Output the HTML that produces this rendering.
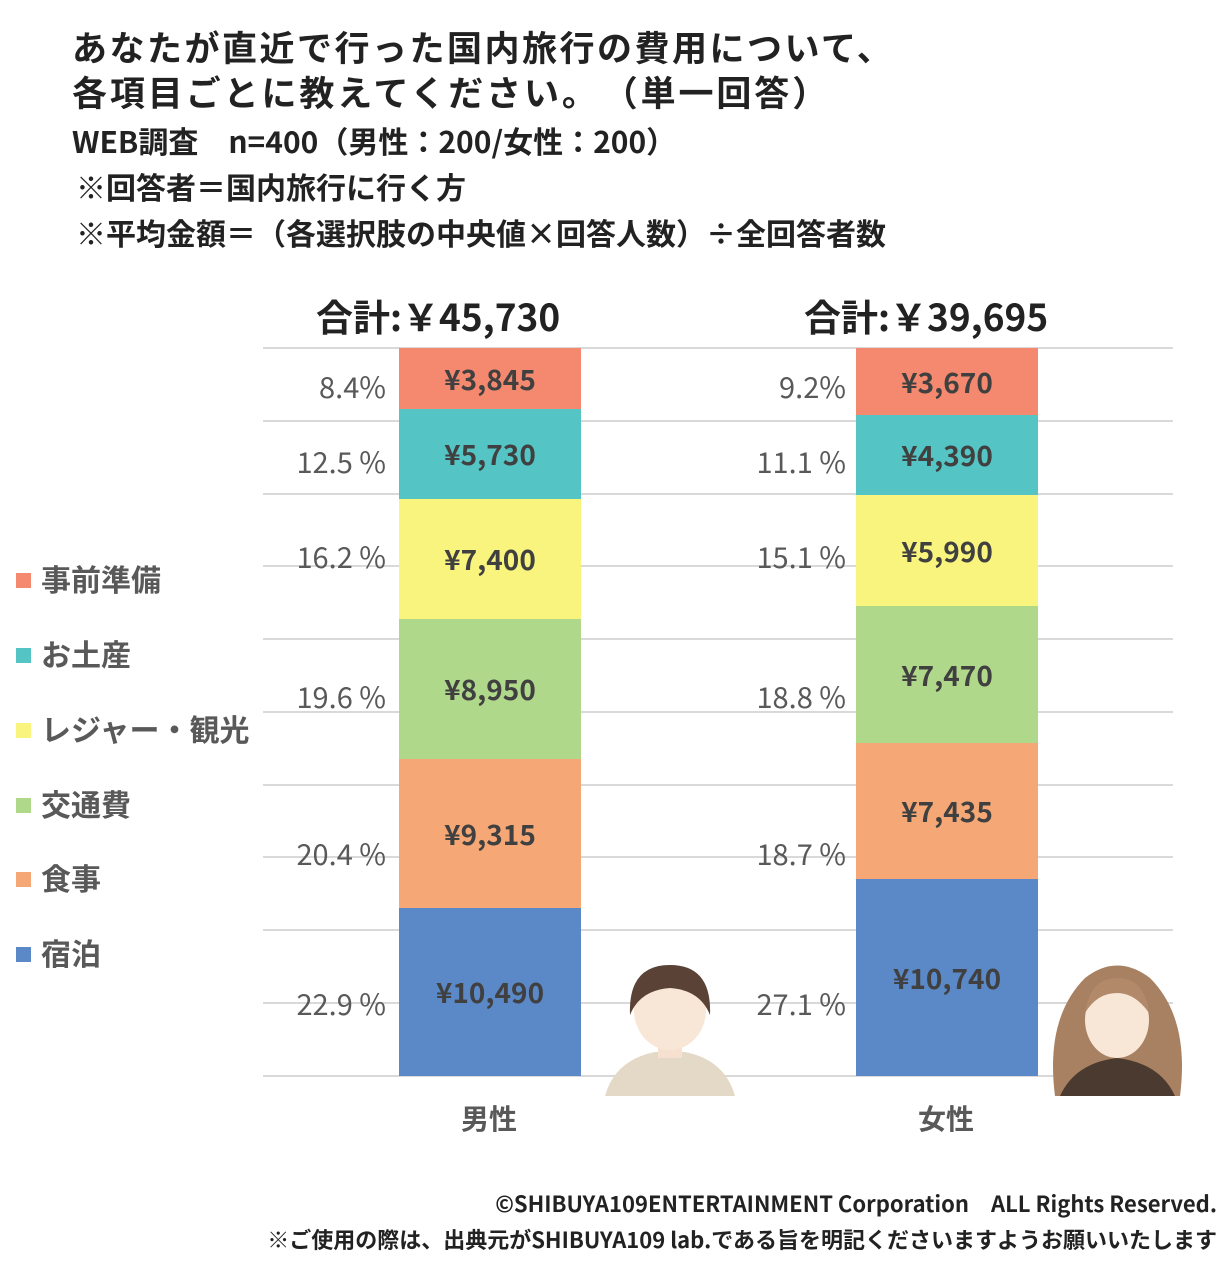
<!DOCTYPE html>
<html><head><meta charset="utf-8"><style>
body{margin:0;background:#fff;}
#c{position:relative;width:1229px;height:1285px;overflow:hidden;font-family:"Noto Sans CJK JP","Liberation Sans",sans-serif;}
.t{position:absolute;white-space:nowrap;font-weight:bold;color:#222;line-height:1.2;}
.g{position:absolute;left:263px;width:910px;height:2px;background:#d9d9d9;}
.s{position:absolute;width:182px;display:flex;align-items:center;justify-content:center;font-size:28px;color:#404040;font-weight:bold;line-height:1;}
.p{position:absolute;width:200px;text-align:right;font-size:29px;color:#595959;line-height:1.2;}
.lg{position:absolute;left:16px;font-size:30px;color:#595959;font-weight:bold;line-height:1.2;}
.lg i{display:inline-block;width:15px;height:15px;margin-right:10px;vertical-align:middle;position:relative;top:-2px;}
</style></head><body><div id="c">
<div class="t" style="left:72px;top:26px;font-size:35px;letter-spacing:2.5px;">あなたが直近で行った国内旅行の費用について、</div>
<div class="t" style="left:72px;top:71px;font-size:35px;letter-spacing:2.9px;">各項目ごとに教えてください。　（単一回答）</div>
<div class="t" style="left:72px;top:122px;font-size:30px;">WEB調査　n=400（男性：200/女性：200）</div>
<div class="t" style="left:76px;top:168px;font-size:30px;">※回答者＝国内旅行に行く方</div>
<div class="t" style="left:76px;top:214px;font-size:30px;">※平均金額＝（各選択肢の中央値×回答人数）÷全回答者数</div>
<div class="t" style="left:316px;top:293px;font-size:37px;">合計:￥45,730</div>
<div class="t" style="left:804px;top:293px;font-size:37px;">合計:￥39,695</div>
<div class="g" style="top:347px"></div><div class="g" style="top:420px"></div><div class="g" style="top:493px"></div><div class="g" style="top:565px"></div><div class="g" style="top:638px"></div><div class="g" style="top:711px"></div><div class="g" style="top:784px"></div><div class="g" style="top:856px"></div><div class="g" style="top:929px"></div><div class="g" style="top:1002px"></div><div class="g" style="top:1075px"></div>
<div class="s" style="left:399px;top:348px;height:61px;background:#F4896F">¥3,845</div>
<div class="s" style="left:399px;top:409px;height:90px;background:#55C4C4">¥5,730</div>
<div class="s" style="left:399px;top:499px;height:120px;background:#F9F47E">¥7,400</div>
<div class="s" style="left:399px;top:619px;height:140px;background:#B0D88B">¥8,950</div>
<div class="s" style="left:399px;top:759px;height:149px;background:#F5A876">¥9,315</div>
<div class="s" style="left:399px;top:908px;height:168px;background:#5B89C8">¥10,490</div>
<div class="s" style="left:856px;top:348px;height:67px;background:#F4896F">¥3,670</div>
<div class="s" style="left:856px;top:415px;height:80px;background:#55C4C4">¥4,390</div>
<div class="s" style="left:856px;top:495px;height:111px;background:#F9F47E">¥5,990</div>
<div class="s" style="left:856px;top:606px;height:137px;background:#B0D88B">¥7,470</div>
<div class="s" style="left:856px;top:743px;height:136px;background:#F5A876">¥7,435</div>
<div class="s" style="left:856px;top:879px;height:197px;background:#5B89C8">¥10,740</div>
<div class="p" style="left:186px;top:369px">8.4%</div>
<div class="p" style="left:186px;top:444px">12.5 %</div>
<div class="p" style="left:186px;top:539px">16.2 %</div>
<div class="p" style="left:186px;top:679px">19.6 %</div>
<div class="p" style="left:186px;top:836px">20.4 %</div>
<div class="p" style="left:186px;top:986px">22.9 %</div>
<div class="p" style="left:646px;top:369px">9.2%</div>
<div class="p" style="left:646px;top:444px">11.1 %</div>
<div class="p" style="left:646px;top:539px">15.1 %</div>
<div class="p" style="left:646px;top:679px">18.8 %</div>
<div class="p" style="left:646px;top:836px">18.7 %</div>
<div class="p" style="left:646px;top:986px">27.1 %</div>
<div class="lg" style="top:560px"><i style="background:#F4896F"></i>事前準備</div>
<div class="lg" style="top:635px"><i style="background:#55C4C4"></i>お土産</div>
<div class="lg" style="top:710px"><i style="background:#F9F47E"></i>レジャー・観光</div>
<div class="lg" style="top:785px"><i style="background:#B0D88B"></i>交通費</div>
<div class="lg" style="top:859px"><i style="background:#F5A876"></i>食事</div>
<div class="lg" style="top:934px"><i style="background:#5B89C8"></i>宿泊</div>
<div class="t" style="left:461px;top:1102px;font-size:28px;color:#595959;">男性</div>
<div class="t" style="left:918px;top:1102px;font-size:28px;color:#595959;">女性</div>
<svg style="position:absolute;left:600px;top:960px" width="140" height="136">
<path d="M5 136 Q15 100 55 92 L85 92 Q125 100 135 136Z" fill="#e3d9c6"/>
<rect x="58" y="78" width="24" height="20" fill="#f6e0cf"/>
<ellipse cx="70" cy="50" rx="36" ry="40" fill="#f8e6d6"/>
<path d="M30 55 Q28 5 70 5 Q112 5 110 55 Q100 30 70 28 Q40 30 30 55Z" fill="#5a4236"/>
</svg>
<svg style="position:absolute;left:1045px;top:958px" width="145" height="138">
<path d="M10 138 Q0 60 40 20 Q72 -5 105 20 Q145 60 135 138Z" fill="#a88062"/>
<path d="M15 138 Q30 105 72 100 Q115 105 130 138Z" fill="#4a3a30"/>
<ellipse cx="72" cy="62" rx="32" ry="38" fill="#f8e6d6"/>
<path d="M40 55 Q45 20 72 20 Q100 20 104 55 Q90 35 72 35 Q52 35 40 55Z" fill="#b28a6a"/>
</svg>
<div class="t" style="right:12px;top:1190px;font-size:22px;">©SHIBUYA109ENTERTAINMENT Corporation　ALL Rights Reserved.</div>
<div class="t" style="right:12px;top:1226px;font-size:22px;">※ご使用の際は、出典元がSHIBUYA109 lab.である旨を明記くださいますようお願いいたします</div>
</div></body></html>
